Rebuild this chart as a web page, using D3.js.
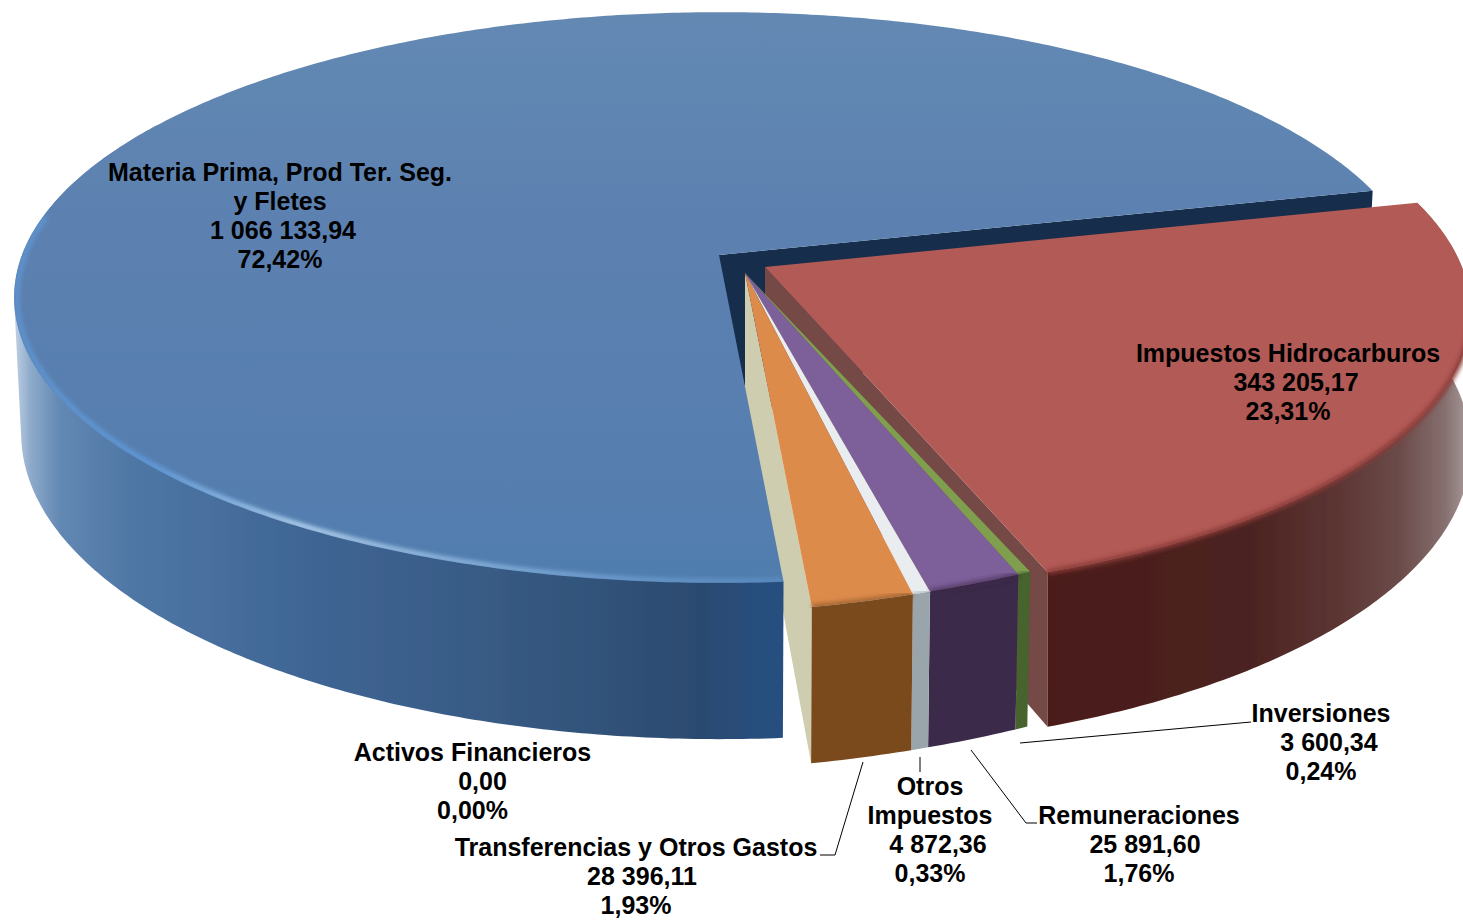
<!DOCTYPE html>
<html>
<head>
<meta charset="utf-8">
<script src="https://cdnjs.cloudflare.com/ajax/libs/d3/7.8.5/d3.min.js"></script>
<style>
html, body { margin: 0; padding: 0; background: #fff; overflow: hidden; }
text { font-family: "Liberation Sans", Arial, sans-serif; font-weight: bold; font-size: 25px; fill: #000; text-anchor: middle; }
</style>
</head>
<body>
<div id="viz"></div>
<script>
var width = 1463, height = 921;

// data, in drawing order round the pie (clockwise)
var names = [
  ["Impuestos Hidrocarburos"],
  ["Inversiones"],
  ["Remuneraciones"],
  ["Otros", "Impuestos"],
  ["Transferencias y Otros Gastos"],
  ["Activos Financieros"],
  ["Materia Prima, Prod Ter. Seg.", "y Fletes"]
];
var values = [343205.17, 3600.34, 25891.60, 4872.36, 28396.11, 0.00, 1066133.94];

var topColors  = ["#b25a56", "#7f9f4f", "#7d609a", "#e9edf0", "#dd8b4c", "#cfcdaf", "#5b82b0"];
var sideColors = ["#4a1c1a", "#46632d", "#3a2a48", "#9aa5ab", "#7a4a1e", "#cfcdaf", "#2c4a70"];
var wallColors = ["#754845", "#46632d", "#3a2a48", "#9aa5ab", "#7a4a1e", "#cfcdaf", "#152d4c"];

// how far each slice is pulled out of the pie, screen px, and the
// extra scale/shear the picture's perspective gives the pulled slices
var explode = [[46, 12], [26, 18], [26, 18], [26, 18], [26, 18], [26, 18], [0, 0]];
var sliceScale = [1, 1.035, 1.035, 1.035, 1.035, 1.035, 1];
var sliceShearY = [0, -0.062, -0.062, -0.062, -0.062, -0.062, 0];
var sliceShearX = [0.023, 0, 0, 0, 0, 0, 0];
var sliceTaper = [0, 0.01, 0.01, 0.01, 0.01, 0.01, 0.01];

// label placement: centre x, first baseline, shift of the number line
var labelX = [1288, 1321, 1139, 930, 636, 472.5, 280];
var labelY = [362, 722, 824, 795, 856, 761, 181];
var labelShift = [8, 8, 6, 8, 6, 10, 3];

// pie geometry
var cx = 719, cy = 255, R = 697, Ry = 279, k = 0.149, depth = 133;
var startDeg = 76.2;

var svg = d3.select("#viz")
  .append("svg")
    .attr("width", width)
    .attr("height", height)
    .style("display", "block")
    .style("background-color", "#fff");

var defs = svg.append("defs");

function xGradient(id, stops) {
  var g = defs.append("linearGradient").attr("id", id)
    .attr("gradientUnits", "userSpaceOnUse")
    .attr("x1", 0).attr("y1", 0).attr("x2", width).attr("y2", 0);
  stops.forEach(function(s) {
    g.append("stop").attr("offset", s[0] / width).attr("stop-color", s[1]);
  });
}
function yGradient(id, stops) {
  var g = defs.append("linearGradient").attr("id", id)
    .attr("gradientUnits", "userSpaceOnUse")
    .attr("x1", 0).attr("y1", 0).attr("x2", 0).attr("y2", height);
  stops.forEach(function(s) {
    g.append("stop").attr("offset", s[0] / height).attr("stop-color", s[1]);
  });
}

xGradient("blueSide", [[13, "#c4d4e6"], [30, "#8fabcb"], [60, "#6288b3"], [130, "#4f77a5"], [300, "#3f6695"], [500, "#375a83"], [700, "#2c4a70"], [760, "#274f7e"], [785, "#264f80"]]);
xGradient("redSide", [[1040, "#4c1b19"], [1250, "#4c2321"], [1340, "#5c3634"], [1400, "#6c4b4a"], [1445, "#85706f"], [1463, "#a09090"]]);
yGradient("blueTop", [[12, "#6389b3"], [250, "#5b80b0"], [450, "#577fb0"], [590, "#4f7dae"]]);
xGradient("blueRim", [[13, "#5f93cf"], [150, "#5f9ada"], [300, "#b9d6f2"], [450, "#8fb6de"], [620, "#6c9bcd"], [785, "#5a8cc0"]]);

var blur = defs.append("filter").attr("id", "soft").attr("x", "-5%").attr("y", "-5%").attr("width", "110%").attr("height", "110%");
blur.append("feGaussianBlur").attr("stdDeviation", 2.2);
var edge = defs.append("filter").attr("id", "edge").attr("x", "-2%").attr("y", "-2%").attr("width", "104%").attr("height", "104%");
edge.append("feGaussianBlur").attr("stdDeviation", 0.7);

var start = startDeg * Math.PI / 180;
var pie = d3.pie().sort(null).value(function(d) { return d; })
  .startAngle(start).endAngle(start + 2 * Math.PI);
var arcs = pie(values);
var total = d3.sum(values);

// project a point of slice i of the tilted disc to the screen, with perspective
function project(i, r, a, z) {
  var wx = r * Math.sin(a), wy = r * Math.cos(a);
  var s = 1 / (1 + k * wy);
  var dx = R * wx * s * (1 - sliceTaper[i] * z);
  var dy = -Ry * wy * s;
  var px = dx * sliceScale[i] + sliceShearX[i] * dy;
  var py = dy * sliceScale[i] + sliceShearY[i] * dx;
  return [cx + explode[i][0] + px, cy + explode[i][1] + py + z * depth * s];
}

function rimAngles(a0, a1) {
  var n = Math.max(2, Math.ceil((a1 - a0) / 0.01));
  return d3.range(n + 1).map(function(j) { return a0 + (a1 - a0) * j / n; });
}

var line = d3.line();

function topPath(i) {
  var pts = [project(i, 0, 0, 0)];
  rimAngles(arcs[i].startAngle, arcs[i].endAngle).forEach(function(a) { pts.push(project(i, 1, a, 0)); });
  return line(pts) + "Z";
}
function rimPath(i, a0, a1, r) {
  return line(rimAngles(a0, a1).map(function(a) { return project(i, r, a, 0); }));
}
function sidePoints(i, a0, a1) {
  var angles = rimAngles(a0, a1);
  var pts = angles.map(function(a) { return project(i, 1, a, 0); });
  angles.slice().reverse().forEach(function(a) { pts.push(project(i, 1, a, 1)); });
  return pts;
}
function sidePath(i, a0, a1) {
  return line(sidePoints(i, a0, a1)) + "Z";
}
function wallPath(i, a) {
  return line([project(i, 0, a, 0), project(i, 1, a, 0), project(i, 1, a, 1), project(i, 0, a, 1)]) + "Z";
}

var chart = svg.append("g").attr("filter", "url(#edge)");

var big = 6, red = 0;

// dark cut face of the big slice, mostly hidden by the red one
chart.append("path").attr("d", wallPath(big, arcs[big].endAngle)).attr("fill", wallColors[big]);

// red slice
chart.append("path").attr("d", wallPath(red, arcs[red].endAngle)).attr("fill", wallColors[red]);
chart.append("path").attr("d", sidePath(red, arcs[red].startAngle, arcs[red].endAngle)).attr("fill", "url(#redSide)");
chart.append("path").attr("d", topPath(red)).attr("fill", topColors[red]);
chart.append("path").attr("d", rimPath(red, arcs[red].startAngle + 0.42, arcs[red].endAngle, 1))
  .attr("fill", "none").attr("stroke", "#8a3b37").attr("stroke-width", 5).attr("filter", "url(#soft)");

// cream cut face belongs to the zero slice
chart.append("path").attr("d", wallPath(5, arcs[5].startAngle)).attr("fill", wallColors[5]);

// thin slices
[1, 2, 3, 4].forEach(function(i) {
  chart.append("path").attr("d", sidePath(i, arcs[i].startAngle, arcs[i].endAngle)).attr("fill", sideColors[i]);
  chart.append("path").attr("d", topPath(i)).attr("fill", topColors[i]);
});
[1, 2, 3, 4].forEach(function(i) {
  chart.append("path").attr("d", rimPath(i, arcs[i].startAngle, arcs[i].endAngle, 1))
    .attr("fill", "none").attr("stroke", sideColors[i]).attr("stroke-opacity", 0.55).attr("stroke-width", 6).attr("filter", "url(#soft)");
});

// big slice last, it sits over the cream face. The hull closes the outline at the left extreme
var sideEnd = 300 * Math.PI / 180, rimEnd = 278 * Math.PI / 180;
chart.append("path").attr("d", line(d3.polygonHull(sidePoints(big, arcs[big].startAngle, sideEnd))) + "Z").attr("fill", "url(#blueSide)");
chart.append("path").attr("d", topPath(big)).attr("fill", "url(#blueTop)");
defs.append("clipPath").attr("id", "bigClip").append("path").attr("d", topPath(big));
chart.append("g").attr("clip-path", "url(#bigClip)")
  .append("path").attr("d", rimPath(big, arcs[big].startAngle, rimEnd, 0.996))
  .attr("fill", "none").attr("stroke", "url(#blueRim)").attr("stroke-width", 5).attr("filter", "url(#soft)");

// labels
var es = d3.formatLocale({ decimal: ",", thousands: " ", grouping: [3] });
var fmtValue = es.format(",.2f");
var fmtPct = es.format(".2f");
var lineGap = 29;

names.forEach(function(nameLines, i) {
  var g = svg.append("text");
  var y = labelY[i];
  nameLines.forEach(function(t) {
    g.append("tspan").attr("x", labelX[i]).attr("y", y).text(t);
    y += lineGap;
  });
  g.append("tspan").attr("x", labelX[i] + labelShift[i]).attr("y", y).text(fmtValue(values[i]));
  y += lineGap;
  g.append("tspan").attr("x", labelX[i]).attr("y", y).text(fmtPct(values[i] / total * 100) + "%");
});

// leader lines
var leaders = [
  [[1020, 743], [1251, 722]],
  [[920, 757], [920, 772]],
  [[971, 750], [1026, 823], [1037, 823]],
  [[863, 762], [835, 855], [820, 855]]
];
svg.selectAll("path.leader").data(leaders).join("path")
  .attr("class", "leader")
  .attr("d", function(d) { return line(d); })
  .attr("fill", "none").attr("stroke", "#000").attr("stroke-width", 1);
</script>
</body>
</html>
